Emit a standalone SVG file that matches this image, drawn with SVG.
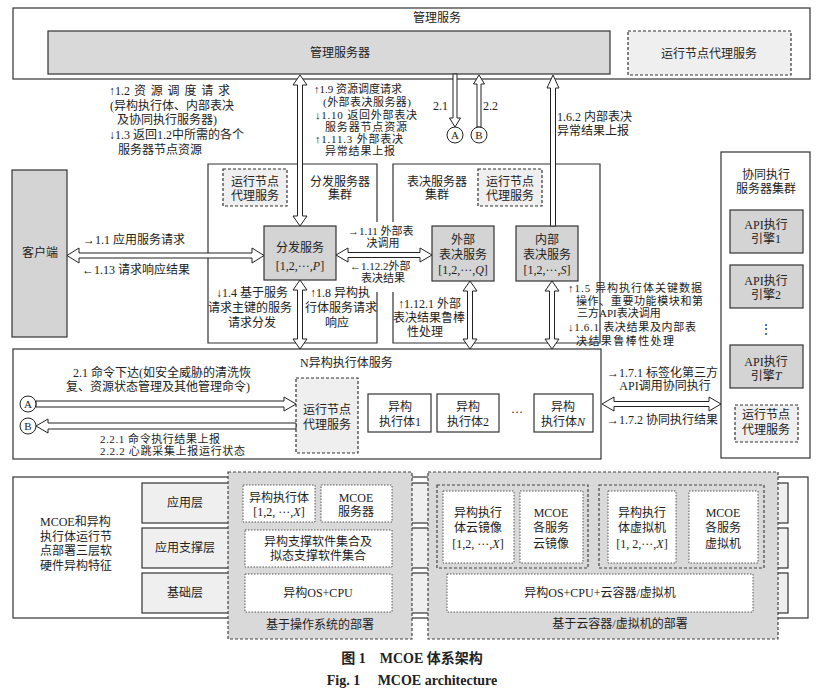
<svg xmlns="http://www.w3.org/2000/svg" width="826" height="696" viewBox="0 0 826 696">
<style>
text{font-family:"Liberation Serif","Noto Sans CJK SC",serif;font-size:12px;fill:#222}
.s{font-size:11px}
.c{text-anchor:middle}
.i{font-style:italic}
.box{fill:#fff;stroke:#333;stroke-width:1.2}
.edge{fill:none;stroke:#333;stroke-width:1.2}
.gray{fill:#d4d4d4;stroke:#333;stroke-width:1.2}
.lg{fill:#efefef;stroke:#333;stroke-width:1.2}
.dash{fill:#efefef;stroke:#333;stroke-width:1.2;stroke-dasharray:3 2}
.dep{fill:#d9d9d9;stroke:#444;stroke-width:1.2;stroke-dasharray:3 2}
.grp{fill:none;stroke:#444;stroke-width:1.2;stroke-dasharray:3 2}
.dot{fill:#fff;stroke:#555;stroke-width:1;stroke-dasharray:1.5 1.5}
.arr{fill:#fff;stroke:#222;stroke-width:1}
.cir{fill:#fff;stroke:#222;stroke-width:1}
.cap{font-weight:bold;font-size:14px}
</style>
<rect width="826" height="696" fill="#fff"/>

<g id="mgmt-service">
<rect class="box" x="13" y="8" width="797" height="71"/>
<text class="c" x="437" y="22">管理服务</text>
</g>
<g id="mgmt-server">
<rect class="gray" x="48" y="31" width="562" height="43" style="fill:#d9d9d9"/>
<text class="c" x="340" y="57">管理服务器</text>
</g>
<g id="mgmt-agent">
<rect class="dash" x="628" y="31" width="163" height="44"/>
<text class="c" x="709" y="58">运行节点代理服务</text>
</g>

<g id="client">
<rect class="gray" x="12" y="170" width="55" height="167"/>
<text class="c" x="40" y="257">客户端</text>
</g>

<g id="dispatch-cluster">
<path class="edge" d="M377,222 V164 H208 V343 H377 V292"/>
<text class="c" x="340" y="186">分发服务器</text>
<text class="c" x="340" y="199">集群</text>
<rect class="dash" x="223" y="169" width="64" height="37"/>
<text class="c" x="255" y="186">运行节点</text>
<text class="c" x="255" y="200">代理服务</text>
</g>
<g id="dispatch">
<rect class="gray" x="264" y="226" width="72" height="54"/>
<text class="c" x="300" y="252">分发服务</text>
<text class="c" x="300" y="270">[1,2,···,<tspan class="i">P</tspan>]</text>
</g>

<g id="vote-cluster">
<path class="edge" d="M393,222 V164 H600 V343 H393 V292"/>
<text class="c" x="437" y="186">表决服务器</text>
<text class="c" x="437" y="199">集群</text>
<rect class="dash" x="478" y="169" width="64" height="37"/>
<text class="c" x="510" y="186">运行节点</text>
<text class="c" x="510" y="200">代理服务</text>
</g>
<g id="ext-vote">
<rect class="gray" x="432" y="226" width="62" height="55"/>
<text class="c" x="463" y="244">外部</text>
<text class="c" x="463" y="259">表决服务</text>
<text class="c" x="463" y="274">[1,2,···,<tspan class="i">Q</tspan>]</text>
</g>
<g id="int-vote">
<rect class="gray" x="516" y="226" width="62" height="55"/>
<text class="c" x="547" y="244">内部</text>
<text class="c" x="547" y="259">表决服务</text>
<text class="c" x="547" y="274">[1,2,···,<tspan class="i">S</tspan>]</text>
</g>

<g id="n-exec">
<rect class="box" x="13" y="349" width="588" height="110"/>
<text x="300" y="367">N异构执行体服务</text>
<rect class="dash" x="296" y="378" width="62" height="75"/>
<text class="c" x="327" y="414">运行节点</text>
<text class="c" x="327" y="429">代理服务</text>
</g>
<g id="exec1">
<rect class="box" x="368" y="394" width="63" height="38"/>
<text class="c" x="400" y="411">异构</text>
<text class="c" x="400" y="426">执行体1</text>
</g>
<g id="exec2">
<rect class="box" x="437" y="394" width="62" height="38"/>
<text class="c" x="468" y="411">异构</text>
<text class="c" x="468" y="426">执行体2</text>
</g>
<text class="c" x="517" y="416">···</text>
<g id="execN">
<rect class="box" x="534" y="394" width="59" height="38"/>
<text class="c" x="563" y="411">异构</text>
<text class="c" x="563" y="426">执行体<tspan class="i">N</tspan></text>
</g>

<g id="coop-cluster">
<rect class="box" x="721" y="152" width="89" height="306"/>
<text class="c" x="766" y="179">协同执行</text>
<text class="c" x="766" y="193">服务器集群</text>
<rect class="gray" x="730" y="210" width="73" height="43"/>
<text class="c" x="766" y="229">API执行</text>
<text class="c" x="766" y="243">引擎1</text>
<rect class="gray" x="730" y="265" width="73" height="43"/>
<text class="c" x="766" y="285">API执行</text>
<text class="c" x="766" y="299">引擎2</text>
<text class="c" x="766" y="333">⋮</text>
<rect class="gray" x="730" y="345" width="73" height="43"/>
<text class="c" x="766" y="366">API执行</text>
<text class="c" x="766" y="380">引擎<tspan class="i">T</tspan></text>
<rect class="dash" x="735" y="405" width="63" height="37"/>
<text class="c" x="766" y="419">运行节点</text>
<text class="c" x="766" y="434">代理服务</text>
</g>

<g id="connectors">
<polygon class="arr" points="300,75 307,85 302.5,85 302.5,216 307,216 300,226 293,216 297.5,216 297.5,85 293,85"/>
<polygon class="arr" points="453,74 457,74 457,118 460.5,118 455,127 449.5,118 453,118"/>
<polygon class="arr" points="479,75 484.5,84 481,84 481,127 477,127 477,84 473.5,84"/>
<polygon class="arr" points="553,75 559,88 555.5,88 555.5,226 550.5,226 550.5,88 547,88"/>
<circle class="cir" cx="455" cy="135" r="8"/>
<text class="c" x="455" y="139" style="font-size:11px">A</text>
<circle class="cir" cx="479" cy="135" r="8"/>
<text class="c" x="479" y="139" style="font-size:11px">B</text>
<polygon class="arr" points="67,255.5 79,248 79,253 252,253 252,248 264,255.5 252,263 252,258 79,258 79,263"/>
<polygon class="arr" points="336,255 348,248 348,252.5 420,252.5 420,248 432,255 420,262 420,257.5 348,257.5 348,262"/>
<polygon class="arr" points="300,280 307,290 302.5,290 302.5,339 307,339 300,349 293,339 297.5,339 297.5,290 293,290"/>
<polygon class="arr" points="470,281 477,291 472.5,291 472.5,339 477,339 470,349 463,339 467.5,339 467.5,291 463,291"/>
<polygon class="arr" points="552,281 559,291 554.5,291 554.5,339 559,339 552,349 545,339 549.5,339 549.5,291 545,291"/>
<polygon class="arr" points="36,401 284,401 284,397 296,404 284,411 284,407 36,407"/>
<polygon class="arr" points="36,426 48,419 48,423 296,423 296,429 48,429 48,433"/>
<polygon class="arr" points="602,404 614,397 614,401.5 709,401.5 709,397 721,404 709,411 709,406.5 614,406.5 614,411"/>
<circle class="cir" cx="28" cy="404" r="8"/>
<text class="c" x="28" y="408" style="font-size:11px">A</text>
<circle class="cir" cx="28" cy="426" r="8"/>
<text class="c" x="28" y="430" style="font-size:11px">B</text>
</g>

<g id="labels">
<text x="109" y="95">↑1.2</text>
<text x="134" y="95" textLength="96" lengthAdjust="spacing">资源调度请求</text>
<text x="110" y="110">(异构执行体、内部表决</text>
<text x="117" y="124">及协同执行服务器)</text>
<text x="109" y="139">↓1.3 返回1.2中所需的各个</text>
<text x="118" y="154">服务器节点资源</text>
<text class="s" x="314" y="93" textLength="88" lengthAdjust="spacing">↑1.9 资源调度请求</text>
<text class="s" x="323" y="106" textLength="88" lengthAdjust="spacing">(外部表决服务器)</text>
<text class="s" x="315" y="119" textLength="102" lengthAdjust="spacing">↓1.10 返回外部表决</text>
<text class="s" x="325" y="131" textLength="82" lengthAdjust="spacing">服务器节点资源</text>
<text class="s" x="315" y="143" textLength="88" lengthAdjust="spacing">↑1.11.3 外部表决</text>
<text class="s" x="325" y="155" textLength="70" lengthAdjust="spacing">异常结果上报</text>
<text x="433" y="110">2.1</text>
<text x="483" y="110">2.2</text>
<text x="557" y="121">1.6.2 内部表决</text>
<text x="557" y="135">异常结果上报</text>
<text x="83" y="244">→1.1 应用服务请求</text>
<text x="82" y="274">←1.13 请求响应结果</text>
<text class="s" x="348" y="235">→1.11 外部表</text>
<text class="c s" x="383" y="247">决调用</text>
<text class="s" x="350" y="270">←1.12.2外部</text>
<text class="c s" x="383" y="282">表决结果</text>
<text x="216" y="297">↓1.4 基于服务</text>
<text x="208" y="312">请求主键的服务</text>
<text class="c" x="252" y="327">请求分发</text>
<text x="310" y="297">↑1.8 异构执</text>
<text x="305" y="312">行体服务请求</text>
<text class="c" x="337" y="327">响应</text>
<text x="398" y="308">↑1.12.1 外部</text>
<text x="393" y="322">表决结果鲁棒</text>
<text class="c" x="425" y="336">性处理</text>
<text class="s" x="568" y="292" textLength="134" lengthAdjust="spacing">↑1.5 异构执行体关键数据</text>
<text class="s" x="576" y="305" textLength="127" lengthAdjust="spacing">操作、重要功能模块和第</text>
<text class="s" x="577" y="317">三方API表决调用</text>
<text class="s" x="568" y="331" textLength="128" lengthAdjust="spacing">↓1.6.1 表决结果及内部表</text>
<text class="s" x="576" y="345" textLength="98" lengthAdjust="spacing">决结果鲁棒性处理</text>
<text class="c" x="162" y="377">2.1 命令下达(如安全威胁的清洗恢</text>
<text class="c" x="158" y="391">复、资源状态管理及其他管理命令)</text>
<text class="s" x="100" y="443" textLength="120" lengthAdjust="spacing">2.2.1 命令执行结果上报</text>
<text class="s" x="100" y="455" textLength="145" lengthAdjust="spacing">2.2.2 心跳采集上报运行状态</text>
<text x="607" y="377">→1.7.1 标签化第三方</text>
<text class="c" x="665" y="390">API调用协同执行</text>
<text x="607" y="424">→1.7.2 协同执行结果</text>
</g>

<g id="layers">
<rect class="box" x="13" y="477" width="795" height="141"/>
<text x="40" y="526">MCOE和异构</text>
<text x="40" y="541">执行体运行节</text>
<text x="40" y="555">点部署三层软</text>
<text x="40" y="570">硬件异构特征</text>
<rect class="lg" x="142" y="483" width="646" height="40"/>
<rect class="lg" x="142" y="528" width="646" height="40"/>
<rect class="lg" x="142" y="573" width="646" height="40"/>
<text class="c" x="185" y="507">应用层</text>
<text class="c" x="185" y="552">应用支撑层</text>
<text class="c" x="185" y="597">基础层</text>
</g>

<g id="os-deploy">
<rect class="dep" x="228" y="472" width="184" height="167"/>
<rect class="dot" x="243" y="485" width="72" height="37"/>
<text class="c" x="279" y="502">异构执行体</text>
<text class="c" x="279" y="516">[1,2, ···,<tspan class="i">X</tspan>]</text>
<rect class="dot" x="321" y="485" width="71" height="37"/>
<text class="c" x="356" y="502">MCOE</text>
<text class="c" x="356" y="516">服务器</text>
<rect class="dot" x="245" y="530" width="147" height="37"/>
<text class="c" x="318" y="546">异构支撑软件集合及</text>
<text class="c" x="318" y="560">拟态支撑软件集合</text>
<rect class="dot" x="245" y="574" width="147" height="38"/>
<text class="c" x="318" y="597">异构OS+CPU</text>
<text class="c" x="320" y="629">基于操作系统的部署</text>
</g>

<g id="cloud-deploy">
<rect class="dep" x="428" y="472" width="350" height="167"/>
<rect class="grp" x="437" y="485" width="151" height="83"/>
<rect class="dot" x="443" y="491" width="71" height="72"/>
<text class="c" x="478" y="517">异构执行</text>
<text class="c" x="478" y="532">体云镜像</text>
<text class="c" x="478" y="548">[1,2, ···,<tspan class="i">X</tspan>]</text>
<rect class="dot" x="520" y="491" width="63" height="72"/>
<text class="c" x="551" y="517">MCOE</text>
<text class="c" x="551" y="532">各服务</text>
<text class="c" x="551" y="548">云镜像</text>
<rect class="grp" x="599" y="485" width="165" height="83"/>
<rect class="dot" x="608" y="491" width="68" height="72"/>
<text class="c" x="642" y="517">异构执行</text>
<text class="c" x="642" y="532">体虚拟机</text>
<text class="c" x="642" y="548">[1, 2,···,<tspan class="i">X</tspan>]</text>
<rect class="dot" x="689" y="491" width="69" height="72"/>
<text class="c" x="723" y="517">MCOE</text>
<text class="c" x="723" y="532">各服务</text>
<text class="c" x="723" y="548">虚拟机</text>
<rect class="dot" x="447" y="574" width="306" height="38"/>
<text class="c" x="600" y="597">异构OS+CPU+云容器/虚拟机</text>
<text class="c" x="620" y="628">基于云容器/虚拟机的部署</text>
</g>

<g id="caption">
<text class="c cap" x="412" y="663">图 1　MCOE 体系架构</text>
<text class="c cap" x="412" y="685">Fig. 1　 MCOE architecture</text>
</g>
</svg>
